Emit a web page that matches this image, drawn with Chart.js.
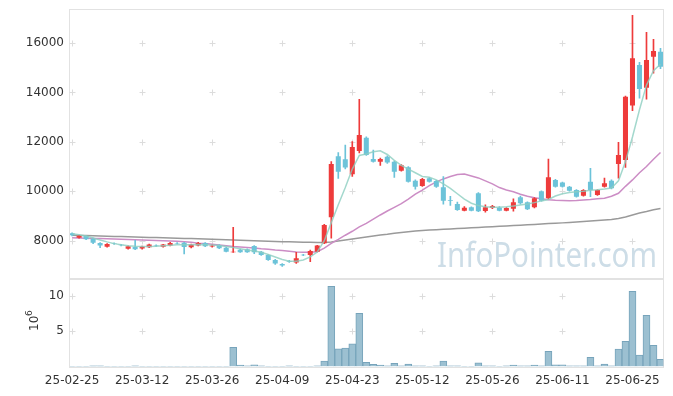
<!DOCTYPE html>
<html>
<head>
<meta charset="utf-8">
<script src="https://cdn.jsdelivr.net/npm/chart.js@4.4.1/dist/chart.umd.min.js"></script>
<style>
  html, body { margin: 0; padding: 0; background: #fff; }
  #wrap { position: relative; width: 673px; height: 396px; }
  #top { position: absolute; left: 0; top: 0; }
  #bot { position: absolute; left: 0; top: 279px; }
</style>
</head>
<body>
<div id="wrap">
  <canvas id="top" width="673" height="279"></canvas>
  <canvas id="bot" width="673" height="117"></canvas>
</div>
<script>
// trading days (YY-MM-DD)
const dates = ['25-02-25','25-02-26','25-02-27','25-02-28','25-03-04','25-03-05','25-03-06','25-03-07','25-03-10','25-03-11',
  '25-03-12','25-03-13','25-03-14','25-03-17','25-03-18','25-03-19','25-03-20','25-03-21','25-03-24','25-03-25',
  '25-03-26','25-03-27','25-03-28','25-03-31','25-04-01','25-04-02','25-04-03','25-04-04','25-04-07','25-04-08',
  '25-04-09','25-04-10','25-04-11','25-04-14','25-04-15','25-04-16','25-04-17','25-04-18','25-04-21','25-04-22',
  '25-04-23','25-04-24','25-04-25','25-04-28','25-04-29','25-04-30','25-05-02','25-05-07','25-05-08','25-05-09',
  '25-05-12','25-05-13','25-05-14','25-05-15','25-05-16','25-05-19','25-05-20','25-05-21','25-05-22','25-05-23',
  '25-05-26','25-05-27','25-05-28','25-05-29','25-05-30','25-06-02','25-06-04','25-06-05','25-06-09','25-06-10',
  '25-06-11','25-06-12','25-06-13','25-06-16','25-06-17','25-06-18','25-06-19','25-06-20','25-06-23','25-06-24',
  '25-06-25','25-06-26','25-06-27','25-06-30','25-07-01'];

const open = [8300,8120,8190,8080,7905,7755,7890,7830,7675,7745,
  7680,7730,7810,7755,7800,7905,7920,7730,7800,7905,
  7760,7825,7715,7530,7635,7650,7785,7555,7420,7220,
  7050,7170,7120,7430,7420,7555,7895,8950,11420,11300,
  10690,11630,12170,11310,11200,11400,11200,10835,10970,10430,
  10215,10530,10420,10160,9640,9485,9215,9350,9920,9200,
  9325,9335,9215,9295,9760,9555,9350,10000,9720,10460,
  10350,10185,10050,9820,10390,9850,10185,10430,11105,11270,
  13470,15115,14195,15450,15650];

const high = [8320,8220,8200,8100,7920,7880,7910,7850,7790,8015,
  7780,7860,7830,7850,7930,7920,7930,7860,7930,7920,
  7830,7840,7730,8540,7650,7670,7800,7570,7440,7240,
  7070,7200,7530,7450,7620,7810,8660,11200,11565,11875,
  12010,13725,12200,11670,11340,11430,11220,11080,11000,10460,
  10520,10550,10440,10590,9790,9560,9380,9370,9950,9450,
  9430,9380,9340,9690,9810,9570,9740,10020,11300,10480,
  10370,10200,10070,10070,10930,10070,10530,10460,11985,13850,
  17120,15225,16440,16155,15790];

const low = [8190,8100,8040,7880,7720,7740,7850,7790,7660,7640,
  7660,7720,7770,7740,7790,7870,7460,7710,7790,7760,
  7740,7680,7540,7520,7520,7520,7470,7400,7200,7040,
  6960,7120,7080,7390,7150,7540,7880,8100,10525,10900,
  10600,11550,11450,11180,11050,11130,10560,10810,10370,10080,
  10200,10370,10160,9480,9430,9220,9200,9200,9170,9150,
  9300,9200,9200,9190,9480,9250,9330,9600,9680,10170,
  10170,10000,9760,9800,9780,9830,10170,10100,10530,10970,
  13260,13765,13725,14780,14960];

const close = [8220,8200,8060,7920,7800,7865,7870,7810,7775,7650,
  7760,7840,7790,7840,7905,7885,7745,7840,7905,7770,
  7800,7690,7555,7555,7530,7530,7530,7420,7220,7070,
  6990,7140,7290,7410,7580,7800,8635,11105,10795,10960,
  11795,12280,11470,11200,11310,11160,10795,11055,10390,10185,
  10500,10390,10185,9620,9610,9245,9335,9215,9190,9350,
  9405,9215,9325,9555,9515,9270,9720,9620,10570,10185,
  10185,10025,9780,10050,10050,10050,10325,10120,11470,13830,
  15390,14145,15320,15680,15045];

const ma5 = [8285,8240,8190,8110,8030,7950,7880,7830,7790,7770,
  7760,7760,7770,7790,7810,7830,7830,7835,7840,7835,
  7825,7800,7760,7720,7670,7620,7580,7530,7440,7340,
  7240,7170,7170,7220,7340,7540,8000,8730,9450,10150,
  10900,11450,11510,11600,11640,11490,11250,11050,10900,10750,
  10600,10570,10460,10300,10120,9900,9680,9515,9420,9370,
  9350,9355,9370,9400,9440,9480,9540,9610,9670,9810,
  9900,9950,9985,10000,10040,10060,10090,10130,10420,11200,
  12200,13300,14300,14880,15150];

const ma20 = [8120,8110,8100,8090,8085,8080,8070,8060,8050,8040,
  8030,8020,8010,8000,7990,7980,7960,7940,7900,7880,
  7850,7820,7790,7760,7740,7720,7700,7670,7650,7620,
  7600,7570,7540,7535,7530,7555,7700,7890,8050,8220,
  8380,8560,8700,8870,9040,9200,9350,9500,9680,9880,
  10050,10230,10380,10500,10600,10680,10700,10620,10540,10420,
  10300,10150,10050,9980,9880,9800,9740,9700,9660,9640,
  9630,9620,9630,9650,9670,9700,9720,9800,9920,10200,
  10460,10750,11000,11300,11570];

const ma60 = [8220,8212,8204,8196,8188,8180,8172,8164,8156,8148,
  8140,8132,8124,8116,8108,8100,8092,8085,8075,8068,
  8060,8050,8040,8030,8020,8010,8000,7990,7980,7970,
  7960,7953,7946,7940,7932,7925,7930,7950,7990,8030,
  8070,8110,8150,8190,8230,8260,8300,8330,8360,8390,
  8410,8430,8445,8460,8475,8490,8505,8520,8535,8550,
  8565,8580,8595,8610,8625,8640,8655,8670,8690,8705,
  8720,8740,8760,8780,8800,8820,8840,8860,8900,8960,
  9040,9120,9180,9250,9300];

// volume in millions of shares
const volume = [0.02,0.02,0.02,0.1,0.1,0.02,0.02,0.02,0.02,0.1,
  0.02,0.02,0.02,0.02,0.02,0.02,0.02,0.02,0.02,0.02,
  0.02,0.02,0.02,2.7,0.2,0.1,0.25,0.1,0.02,0.02,
  0.02,0.1,0.02,0.02,0.02,0.1,0.75,11.3,2.5,2.6,
  3.2,7.5,0.6,0.3,0.2,0.1,0.45,0.1,0.35,0.1,
  0.1,0.02,0.1,0.75,0.1,0.1,0.02,0.02,0.5,0.1,
  0.1,0.02,0.1,0.2,0.1,0.1,0.2,0.1,2.15,0.25,
  0.25,0.1,0.1,0.1,1.3,0.1,0.35,0.1,2.45,3.55,
  10.6,1.6,7.2,3.0,1.0];

const dateTicks = ['25-02-25','25-03-12','25-03-26','25-04-09','25-04-23','25-05-12','25-05-26','25-06-11','25-06-25'];
const priceTicks = [8000, 10000, 12000, 14000, 16000];
const volTicks = [5, 10];

const tickIdx = dateTicks.map(d => dates.indexOf(d));
const upColor = '#ee3b3b';
const downColor = '#6cc3d9';
const candleColors = open.map((o, i) => close[i] >= o ? upColor : downColor);
const txtFont = { family: 'DejaVu Sans', size: 12 };
const txtColor = '#333';

// frame + small "+" grid marks at tick crossings
const gridPlus = {
  id: 'gridPlus',
  beforeDatasetsDraw(chart, args, opts) {
    const { ctx, chartArea: a, scales } = chart;
    ctx.save();
    ctx.strokeStyle = '#e2e2e2';
    ctx.lineWidth = 1;
    ctx.strokeRect(Math.round(a.left) - 0.5, Math.round(a.top) - 0.5, Math.round(a.right - a.left) + 1, Math.round(a.bottom - a.top) + 1);
    ctx.strokeStyle = '#dcdcdc';
    opts.yTicks.forEach(v => {
      const y = Math.round(scales.y.getPixelForValue(v)) + 0.5;
      tickIdx.forEach(i => {
        const x = Math.round(scales.x.getPixelForValue(i)) + 0.5;
        ctx.beginPath();
        ctx.moveTo(x - 3, y); ctx.lineTo(x + 3, y);
        ctx.moveTo(x, y - 3); ctx.lineTo(x, y + 3);
        ctx.stroke();
      });
    });
    ctx.restore();
  }
};

const watermark = {
  id: 'watermark',
  beforeDatasetsDraw(chart) {
    const { ctx } = chart;
    ctx.save();
    ctx.font = '34px "Noto Sans"';
    ctx.fillStyle = '#cddde7';
    ctx.textBaseline = 'alphabetic';
    const txt = 'InfoPointer.com';
    const w = ctx.measureText(txt).width;
    ctx.translate(437, 267);
    ctx.scale(220 / w, 1);
    ctx.fillText(txt, 0, 0);
    ctx.restore();
  }
};

const volTitle = {
  id: 'volTitle',
  afterDraw(chart) {
    const ctx = chart.ctx;
    ctx.save();
    ctx.translate(38, 43);
    ctx.rotate(-Math.PI / 2);
    ctx.fillStyle = txtColor;
    ctx.font = '12px "DejaVu Sans"';
    ctx.textBaseline = 'alphabetic';
    ctx.fillText('10', -9, 0);
    ctx.font = '9px "DejaVu Sans"';
    ctx.fillText('6', 6, -6);
    ctx.restore();
  }
};

// keep the plot boxes at fixed pixel sizes in both canvases
function fixX(h) {
  return s => {
    s.height = h;
    s.paddingLeft = 0; s.paddingRight = 0; s.paddingTop = 0; s.paddingBottom = 0;
  };
}
function fixY(s) {
  s.width = 70;
  s.paddingLeft = 0; s.paddingRight = 0; s.paddingTop = 0; s.paddingBottom = 0;
}

function xAxis(showLabels) {
  return {
    type: 'linear',
    display: true,
    offset: false,
    min: -0.3,
    max: 84.4,
    afterBuildTicks: s => { s.ticks = tickIdx.map(v => ({ value: v })); },
    afterFit: fixX(showLabels ? 29.5 : 0),
    ticks: { display: showLabels, autoSkip: false, maxRotation: 0, padding: 7, font: txtFont, color: txtColor, callback: v => dates[v] },
    grid: { display: false, drawTicks: false, offset: false },
    border: { display: false }
  };
}

function yAxis(min, max, list) {
  return {
    min: min,
    max: max,
    afterBuildTicks: s => { s.ticks = list.map(v => ({ value: v })); },
    afterFit: fixY,
    ticks: { padding: 6, font: txtFont, color: txtColor, callback: v => String(v) },
    grid: { display: false, drawTicks: false },
    border: { display: false }
  };
}

const xy = arr => arr.map((v, i) => ({ x: i, y: v }));

new Chart(document.getElementById('top'), {
  type: 'bar',
  data: {
    datasets: [
      { type: 'line', data: xy(ma60), borderColor: '#9a9a9a', borderWidth: 1.5, pointRadius: 0, order: 5 },
      { type: 'line', data: xy(ma20), borderColor: '#cc8dc5', borderWidth: 1.5, pointRadius: 0, order: 4 },
      { data: low.map((l, i) => ({ x: i, y: [l, high[i]] })), backgroundColor: candleColors, barThickness: 1, grouped: false, order: 3 },
      { data: open.map((o, i) => ({ x: i, y: [o, close[i]] })), backgroundColor: candleColors, categoryPercentage: 1, barPercentage: 0.72, grouped: false, order: 2 },
      { type: 'line', data: xy(ma5), borderColor: 'rgba(140,206,192,0.8)', borderWidth: 1.5, pointRadius: 0, order: 1 }
    ]
  },
  options: {
    responsive: false,
    animation: false,
    layout: { padding: { left: 0, right: 9.7, top: 10, bottom: 1.3 } },
    plugins: { legend: { display: false }, tooltip: { enabled: false }, gridPlus: { yTicks: priceTicks } },
    scales: {
      x: xAxis(false),
      y: yAxis(6500, 17340, priceTicks)
    }
  },
  plugins: [gridPlus, watermark]
});

new Chart(document.getElementById('bot'), {
  type: 'bar',
  data: {
    datasets: [
      { data: xy(volume), backgroundColor: '#9cc0d1', borderColor: '#77a4bb', borderWidth: 1, categoryPercentage: 1, barPercentage: 1 }
    ]
  },
  options: {
    responsive: false,
    animation: false,
    layout: { padding: { left: 0, right: 9.7, top: 1, bottom: 0 } },
    plugins: { legend: { display: false }, tooltip: { enabled: false }, gridPlus: { yTicks: volTicks } },
    scales: {
      x: xAxis(true),
      y: yAxis(0, 12.2, volTicks)
    }
  },
  plugins: [gridPlus, volTitle]
});
</script>
</body>
</html>
